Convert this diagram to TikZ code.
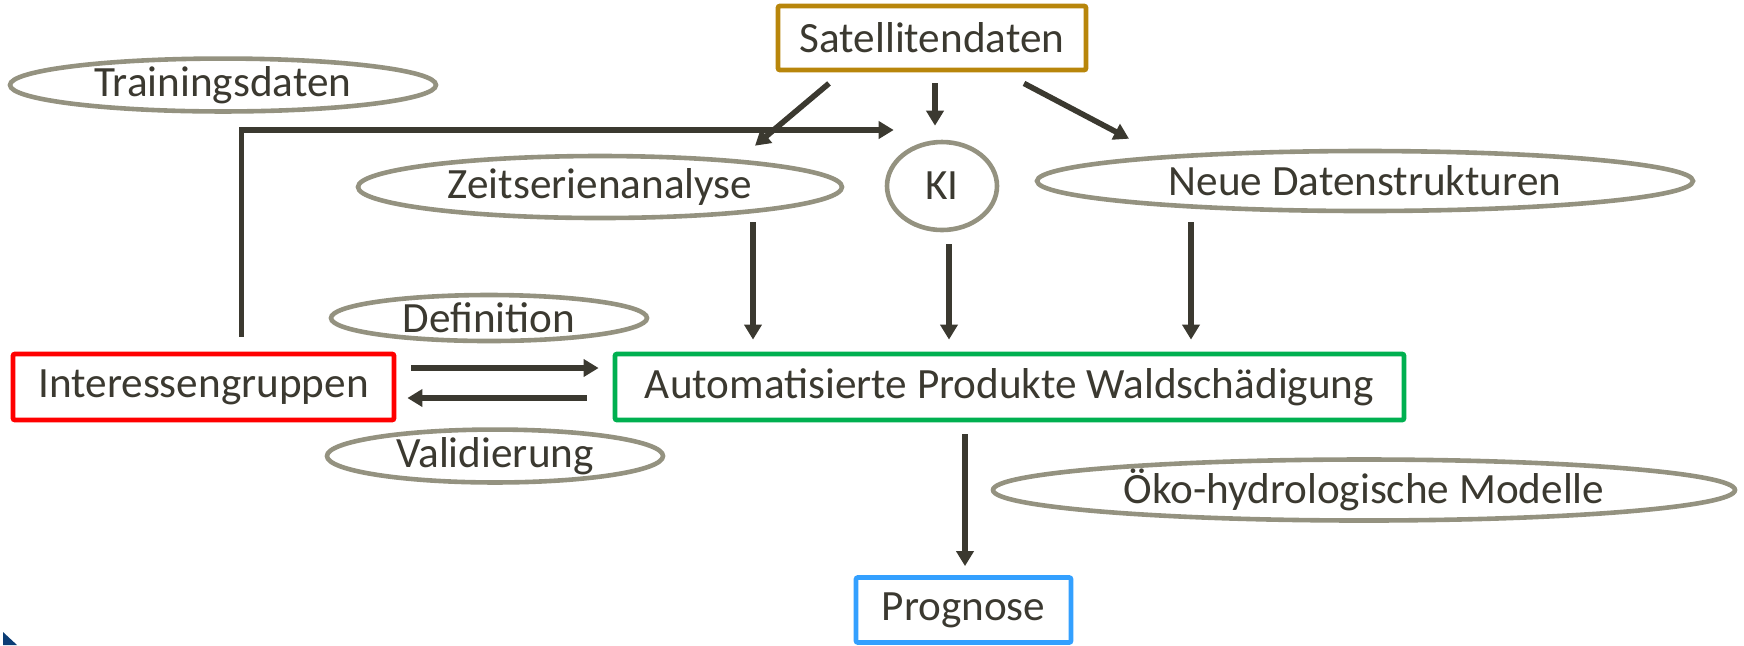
\documentclass[tikz,border=0pt]{standalone}
\usepackage{fontspec}
\setmainfont{Carlito}
\usepackage{tikz}
\usetikzlibrary{shapes.geometric,arrows.meta,calc}
\definecolor{inkgray}{RGB}{59,57,48}
\definecolor{olivegray}{RGB}{148,146,128}
\definecolor{satgold}{RGB}{184,134,11}
\definecolor{autogreen}{RGB}{0,176,80}
\definecolor{progblue}{RGB}{51,160,255}
\definecolor{cornerblue}{RGB}{11,61,117}
\tikzset{
  box/.style={
    rectangle,
    rounded corners=1pt,
    draw, line width=2.4pt,
    text=inkgray,
    inner sep=0pt,
    text centered
  },
  blob/.style={
    ellipse,
    draw=olivegray, line width=2.3pt,
    text=inkgray,
    inner sep=0pt,
    text centered
  },
  arr/.style={
    draw=inkgray, line width=2.8pt,
    -{Triangle[length=7.5pt,width=8.5pt]}
  },
}

\begin{document}
\begin{tikzpicture}[x=0.5pt,y=-0.5pt,font=\fontsize{21.6}{26}\selectfont]
      \useasboundingbox (0,0) rectangle (1744,645);

      % boxes
      \node[box, draw=satgold, minimum width=154pt, minimum height=32pt] (sat) at (932,38) {Satellitendaten};
      \node[box, draw=red, minimum width=190.5pt, minimum height=33pt] (inter) at (203.5,387) {Interessengruppen\hspace{10pt}};
      \node[box, draw=autogreen, minimum width=394.5pt, minimum height=33pt] (auto) at (1009.5,387) {Automatisierte Produkte Waldschädigung\hspace{26pt}};
      \node[box, draw=progblue, minimum width=107.5pt, minimum height=32.5pt] (prog) at (963.5,610) {Prognose\hspace{8pt}};

      % ellipses
      \node[blob, minimum width=213pt, minimum height=26pt] (train) at (223,85) {Trainingsdaten\hspace{4pt}};
      \node[blob, minimum width=242pt, minimum height=31pt] (zeit) at (600,187) {Zeitserienanalyse};
      \node[blob, minimum width=55pt, minimum height=44pt] (ki) at (942,186) {KI};
      \node[blob, minimum width=328pt, minimum height=30pt] (neue) at (1365,181) {Neue Datenstrukturen\hspace{44pt}};
      \node[blob, minimum width=158pt, minimum height=23pt] (defi) at (489,318) {Definition\hspace{10pt}};
      \node[blob, minimum width=168pt, minimum height=24pt] (vali) at (495,456) {Validierung\hspace{2pt}};
      \node[blob, minimum width=371pt, minimum height=30.5pt] (oeko) at (1364,490) {Öko-hydrologische Modelle\hspace{14pt}};

      % arrows
      \path[every edge/.style={arr}]
      ($(sat.south)+(-103,11)$) edge ($(zeit.north)+(155,-8)$)
      ($(sat.south)+(3,11)$) edge ($(ki.north)+(-7,-14)$)
      ($(sat.south)+(92,11)$) edge ($(neue.north)+(-236,-10)$)
      ($(zeit.south)+(153,2)$) edge ($(auto.north)+(-256.5,-12)$)
      ($(ki.south)+(7,12)$) edge ($(auto.north)+(-60.5,-12)$)
      ($(neue.south)+(-174,9)$) edge ($(auto.north)+(181.5,-12)$)
      ($(inter.east)+(15,-19)$) edge ($(auto.west)+(-14,-19)$)
      ($(auto.west)+(-26,11)$) edge ($(inter.east)+(11,11)$)
      ($(auto.south)+(-44.5,12)$) edge ($(prog.north)+(1.5,-9)$);
      \draw[arr] ($(inter.north)+(38,-15)$) |- ($(ki.west)+(9,-56)$);

      % slide corner
      \fill[cornerblue] (3,632) -- (17,645) -- (3,645) -- cycle;
    \end{tikzpicture}
\end{document}
